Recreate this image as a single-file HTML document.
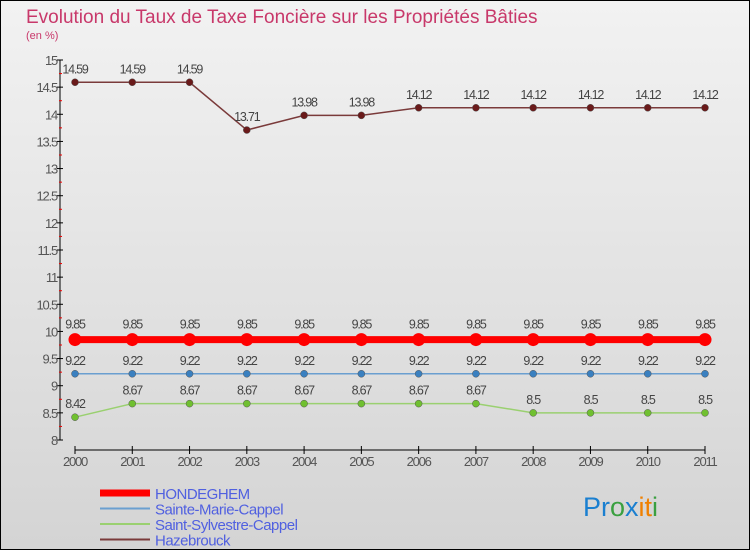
<!DOCTYPE html>
<html><head><meta charset="utf-8"><style>
body{margin:0}
#c{width:750px;height:550px;position:relative;font-family:"Liberation Sans",sans-serif;background:linear-gradient(#f2f2f2,#d4d4d4);box-sizing:border-box;border:1px solid #000;overflow:hidden}
</style></head><body>
<div id="c">
<svg id="s" width="750" height="550" style="position:absolute;left:-1px;top:-1px">
<text x="26" y="23" font-size="19" fill="#c8386a">Evolution du Taux de Taxe Foncière sur les Propriétés Bâties</text>
<text x="26" y="39" font-size="11" fill="#c8386a">(en %)</text>
<g id="ax"></g><g id="ser"></g><g id="leg"></g>
<text x="583" y="516" font-size="27"><tspan fill="#1a7fd0">Pr</tspan><tspan fill="#3aa040">o</tspan><tspan fill="#1a7fd0">x</tspan><tspan fill="#f08000">it</tspan><tspan fill="#3aa040">i</tspan></text>
</svg></div>
<script>
const years=[2000,2001,2002,2003,2004,2005,2006,2007,2008,2009,2010,2011];
const hondeghem=[9.85,9.85,9.85,9.85,9.85,9.85,9.85,9.85,9.85,9.85,9.85,9.85];
const sainteMarie=[9.22,9.22,9.22,9.22,9.22,9.22,9.22,9.22,9.22,9.22,9.22,9.22];
const saintSylvestre=[8.42,8.67,8.67,8.67,8.67,8.67,8.67,8.67,8.5,8.5,8.5,8.5];
const hazebrouck=[14.59,14.59,14.59,13.71,13.98,13.98,14.12,14.12,14.12,14.12,14.12,14.12];
const yTicks=[8,8.5,9,9.5,10,10.5,11,11.5,12,12.5,13,13.5,14,14.5,15];
const names=["HONDEGHEM","Sainte-Marie-Cappel","Saint-Sylvestre-Cappel","Hazebrouck"];
const NS="http://www.w3.org/2000/svg";
const X=i=>75+i*(630/(years.length-1));
const Y=v=>60+(15-v)*(380/7);
function mk(p,t,a){const e=document.createElementNS(NS,t);for(const k in a)e.setAttribute(k,a[k]);p.appendChild(e);return e;}
const ax=document.getElementById('ax'),ser=document.getElementById('ser'),leg=document.getElementById('leg');
let l=mk(ax,'line',{x1:60,y1:Y(15),x2:60,y2:Y(8),stroke:'#000'});

yTicks.forEach(v=>{mk(ax,'line',{x1:57,x2:63,y1:Y(v),y2:Y(v),stroke:'#000'});
 mk(ax,'line',{x1:59,x2:62,y1:Y(v+0.25),y2:Y(v+0.25),stroke:v<15?'#e00':'none'});
 const t=mk(ax,'text',{x:57,y:Y(v)+5,'font-size':13,'text-anchor':'end',fill:'#555','letter-spacing':'-1.2'});t.textContent=String(v);
 });
l=mk(ax,'line',{x1:X(0),y1:450,x2:X(11),y2:450,stroke:'#000'});

years.forEach((y,i)=>{mk(ax,'line',{x1:X(i),x2:X(i),y1:446,y2:454,stroke:'#000'});
 const t=mk(ax,'text',{x:X(i),y:466,'font-size':13,'text-anchor':'middle',fill:'#555','letter-spacing':'-1.2'});t.textContent=y;
 });
const S=[[hondeghem,'#f00',7,6.5,'#f00'],[sainteMarie,'#6a9fd0',1.5,3.5,'#3a80c0'],[saintSylvestre,'#9ad070',1.5,3.5,'#70c030'],[hazebrouck,'#7a3a3a',1.5,3.5,'#6a1a1a']];
S.forEach((s,k)=>{const d=s[0];
 const p=mk(ser,'polyline',{points:d.map((v,i)=>X(i)+','+Y(v)).join(' '),fill:'none',stroke:s[1],'stroke-width':s[2]});
 
 d.forEach((v,i)=>{const c=mk(ser,'circle',{cx:X(i),cy:Y(v),r:s[3],fill:s[4],stroke:k==0?'none':'#555','stroke-width':0.5});
  
  const t=mk(ser,'text',{x:X(i),y:Y(v)-9-(k==0?2:0),'font-size':12.5,'text-anchor':'middle',fill:'#444','letter-spacing':'-1.2'});t.textContent=String(v);
  });
 const ly=493+k*15.5;
 const ll=mk(leg,'line',{x1:100,x2:150,y1:ly,y2:ly,stroke:s[1],'stroke-width':k==0?7:2});
 
 const lt=mk(leg,'text',{x:155,y:ly+6,'font-size':15,fill:'#5060e0','letter-spacing':'-0.5'});lt.textContent=names[k];
 
});
</script></body></html>
